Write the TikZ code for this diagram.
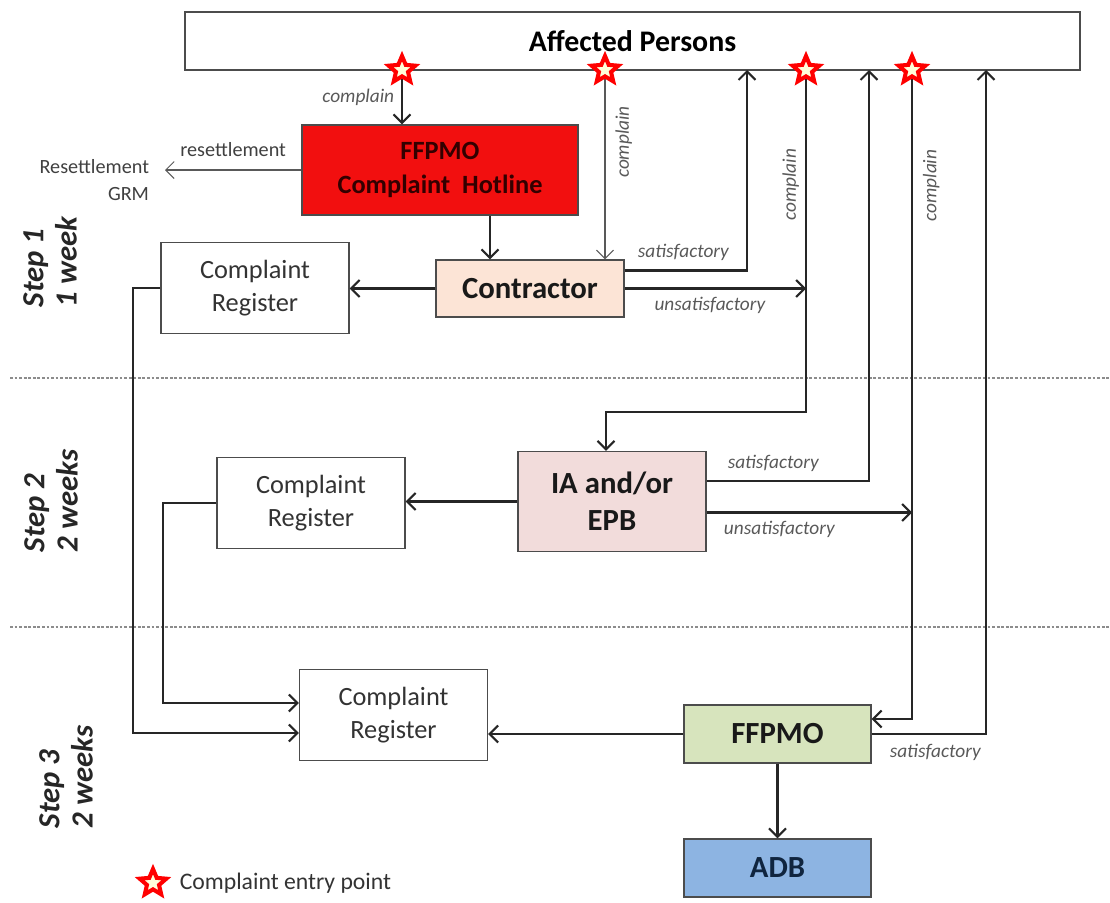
\documentclass[tikz,border=0pt]{standalone}
\usepackage{fontspec}
\setmainfont{Carlito}
\usetikzlibrary{arrows.meta,positioning,shapes.geometric}
\definecolor{hotred}{HTML}{F20F0F}
\definecolor{peach}{HTML}{FCE4D6}
\definecolor{rose}{HTML}{F2DCDB}
\definecolor{sage}{HTML}{D7E4BD}
\definecolor{sky}{HTML}{8DB4E2}
\definecolor{navy}{HTML}{10253F}

\begin{document}
\begin{tikzpicture}[x=0.02cm,y=-0.02cm,
  box/.style={draw=black!70,line width=0.8pt,align=center,inner sep=2pt,text=black!85},
  reg/.style={box,minimum width=3.76cm,minimum height=1.82cm,font=\fontsize{15}{19}\selectfont,text=black!80},
  unit/.style={box,font=\bfseries\fontsize{17.5}{21}\selectfont,text=black!90},
  lbl/.style={font=\itshape\fontsize{11}{13}\selectfont,text=black!65,inner sep=1pt},
  link/.style={draw=black!85,line width=1.2pt,-{Straight Barb[length=1.7mm,width=3.4mm]}},
  thinlink/.style={draw=black!65,line width=0.6pt,-{Straight Barb[length=1.7mm,width=3.4mm]}},
  entry/.style={star,star points=5,star point ratio=2.2,draw=red,fill=yellow!15,line width=2.3pt,minimum size=0.56cm,inner sep=0pt},
  steplbl/.style={rotate=90,align=left,font=\bfseries\itshape\fontsize{17.5}{19}\selectfont,text=black!85},
  sepline/.style={draw=black!45,line width=1.6pt,densely dotted}]
\useasboundingbox (0,0) rectangle (1110,903);

\draw[sepline] (10,378) -- (1110,378);
\draw[sepline] (10,627) -- (1110,627);

\node[box,minimum width=17.9cm,minimum height=1.16cm,font=\bfseries\fontsize{17}{20}\selectfont,text=black] (ap) at (632.5,41) {Affected Persons};
\node[box,fill=hotred,minimum width=5.52cm,minimum height=1.8cm,font=\bfseries\fontsize{15}{19}\selectfont,text=black!80!red] (hotline) at (440,170) {FFPMO\\Complaint\ \ Hotline};
\node[unit,fill=peach,minimum width=3.76cm,minimum height=1.14cm] (cont) at (530,288.5) {Contractor};
\node[reg] (reg1) at (255,288) {Complaint\\Register};
\node[unit,fill=rose,minimum width=3.76cm,minimum height=2cm] (ia) at (612,501.5) {IA and/or\\EPB};
\node[reg] (reg2) at (311,503) {Complaint\\Register};
\node[unit,fill=sage,minimum width=3.74cm,minimum height=1.16cm] (ffpmo) at (777.5,734) {FFPMO};
\node[unit,fill=sky,minimum width=3.74cm,minimum height=1.16cm,text=navy] (adb) at (777.5,868) {ADB};
\node[reg] (reg3) at (393.5,715) {Complaint\\Register};
\node[anchor=east,align=right,inner sep=0pt,outer xsep=0.32cm,font=\fontsize{11.5}{15.5}\selectfont,text=black!75] (grm) at (165,180) {Resettlement\\GRM};

\node[steplbl] (step1) at (50,262) {Step 1\\1 week};
\node[steplbl] (step2) at (51,501) {Step 2\\2 weeks};
\node[steplbl] (step3) at (66,777) {Step 3\\2 weeks};

\coordinate (e1) at (402,70);
\coordinate (e2) at (605,70);
\coordinate (e3) at (806,70);
\coordinate (e4) at (912,70);
\coordinate (r1) at (747,70);
\coordinate (r2) at (869,70);
\coordinate (r3) at (986,70);
\coordinate (k1) at (606,412);

\draw[link] (e1) -- node[lbl,left=0.1cm,pos=0.5] {complain} (e1 |- hotline.north);
\draw[thinlink] (hotline.west) -- node[midway,above=0.14cm,font=\fontsize{11.5}{13}\selectfont,text=black!75] {resettlement} (hotline.west -| grm.east);
\draw[link] ([xshift=-0.8cm]cont.north |- hotline.south) -- ([xshift=-0.8cm]cont.north);
\draw[link] (cont.west) -- (cont.west -| reg1.east);
\draw[thinlink] (e2) -- node[lbl,rotate=90,anchor=north,pos=0.38,inner sep=0.2cm] {complain} (e2 |- cont.north);
\draw[link] ([yshift=0.36cm]cont.east) -| node[lbl,above=0.14cm,pos=0.24] {satisfactory} (r1);
\draw[link] (cont.east) -- node[lbl,below=0.12cm,pos=0.47] {unsatisfactory} (cont.east -| e3);

\draw[link] (e3) |- node[lbl,rotate=90,anchor=south,pos=0.168,inner sep=0.12cm] {complain} (k1) -- (k1 |- ia.north);
\draw[link] ([yshift=0.41cm]ia.east) -| node[lbl,above=0.14cm,pos=0.205] {satisfactory} (r2);
\draw[link] ([yshift=-0.22cm]ia.east) -- node[lbl,below=0.12cm,pos=0.354] {unsatisfactory} ([yshift=-0.22cm]ia.east -| e4);
\draw[link] (ia.west) -- (ia.west -| reg2.east);

\draw[link] (e4) |- node[lbl,rotate=90,anchor=north,pos=0.089,inner sep=0.2cm] {complain} ([yshift=0.3cm]ffpmo.east);
\draw[link] (ffpmo.east) -| node[lbl,below=0.14cm,pos=0.278] {satisfactory} (r3);
\draw[link] (ffpmo.west) -- (ffpmo.west -| reg3.east);
\draw[link] (ffpmo) -- (adb);
\draw[link] (reg1.west) -- ++(-0.54cm,0) |- ([yshift=-0.36cm]reg3.west);
\draw[link] (reg2.west) -- ++(-1.06cm,0) |- ([yshift=0.24cm]reg3.west);

\foreach \i in {1,...,4}
  \node[entry] (st\i) at (e\i) {};

\node[entry] (lgstar) at (153,883) {};
\node[right=0.3cm of lgstar,inner sep=0pt,font=\fontsize{13.5}{16}\selectfont,text=black!80] (lgtext) {Complaint entry point};
\end{tikzpicture}
\end{document}
